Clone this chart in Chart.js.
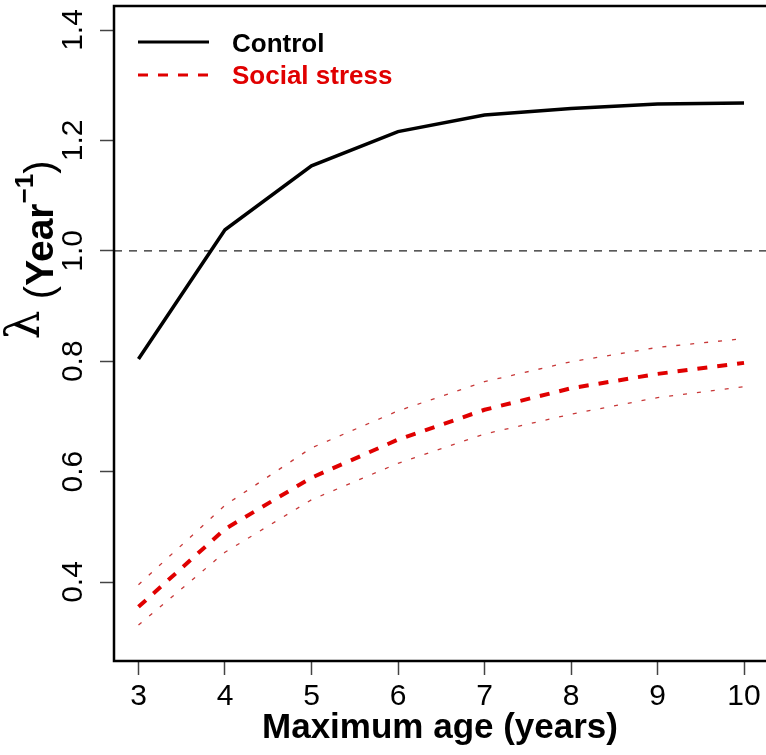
<!DOCTYPE html>
<html lang="en">
<head>
<meta charset="utf-8">
<script src="https://cdn.jsdelivr.net/npm/chart.js@4.4.0/dist/chart.umd.min.js"></script>
<style>
  html, body { margin: 0; padding: 0; background: #fff; }
  canvas { display: block; }
</style>
</head>
<body>
<canvas id="myChart" width="766" height="755"></canvas>
<script>
// data
var maxAge = [3, 4, 5, 6, 7, 8, 9, 10];
var control = [0.804, 1.038, 1.154, 1.216, 1.246, 1.258, 1.266, 1.268];
var stressMean = [0.355, 0.496, 0.589, 0.658, 0.712, 0.751, 0.777, 0.797];
var stressUpper = [0.395, 0.539, 0.643, 0.710, 0.763, 0.799, 0.825, 0.841];
var stressLower = [0.322, 0.454, 0.549, 0.615, 0.668, 0.704, 0.734, 0.754];
var xTicks = [3, 4, 5, 6, 7, 8, 9, 10];
var yTicks = [0.4, 0.6, 0.8, 1.0, 1.2, 1.4];
var refLevel = 1.0;
var legendNames = ['Control', 'Social stress'];

var SANS = '"Liberation Sans", Arial, Helvetica, sans-serif';
var RED = '#e00000';

function pts(ys) {
    return maxAge.map(function (x, i) { return { x: x, y: ys[i] }; });
}

// frame, reference line, rotated y labels, y title, legend
var decor = {
    id: 'decor',
    beforeDatasetsDraw: function (chart) {
        var ctx = chart.ctx, a = chart.chartArea;
        var y = chart.scales.y.getPixelForValue(refLevel);
        ctx.save();
        ctx.strokeStyle = '#222';
        ctx.lineWidth = 1.2;
        ctx.setLineDash([8, 7]);
        ctx.beginPath();
        ctx.moveTo(a.left, y);
        ctx.lineTo(a.right, y);
        ctx.stroke();
        ctx.restore();
    },
    afterDatasetsDraw: function (chart) {
        var ctx = chart.ctx, a = chart.chartArea;
        ctx.save();
        // box (right side falls outside the picture)
        ctx.strokeStyle = '#000';
        ctx.lineWidth = 2.5;
        ctx.beginPath();
        ctx.moveTo(a.right + 5, a.top);
        ctx.lineTo(a.left, a.top);
        ctx.lineTo(a.left, a.bottom);
        ctx.lineTo(a.right + 5, a.bottom);
        ctx.stroke();

        // y tick labels, parallel to the axis
        var ys = chart.scales.y;
        ctx.fillStyle = '#000';
        ctx.font = '30px ' + SANS;
        ctx.textAlign = 'center';
        ctx.textBaseline = 'alphabetic';
        yTicks.forEach(function (v) {
            ctx.save();
            ctx.translate(82, ys.getPixelForValue(v));
            ctx.rotate(-Math.PI / 2);
            ctx.fillText(v.toFixed(1), 0, 0);
            ctx.restore();
        });

        // y title: lambda (Year^-1)
        var parts = [
            { t: '\u03bb', f: '46px "DejaVu Serif", "Liberation Serif", serif', dy: -14 },
            { t: ' (', f: '40px ' + SANS, dy: 0 },
            { t: 'Year', f: 'bold 39px ' + SANS, dy: 0 },
            { t: '\u22121', f: 'bold 26px ' + SANS, dy: -20 },
            { t: ')', f: '40px ' + SANS, dy: 0 }
        ];
        var total = 0;
        parts.forEach(function (p) { ctx.font = p.f; p.w = ctx.measureText(p.t).width; total += p.w; });
        ctx.save();
        ctx.translate(53, 250);
        ctx.rotate(-Math.PI / 2);
        ctx.textAlign = 'left';
        var x = -total / 2;
        parts.forEach(function (p) {
            ctx.font = p.f;
            ctx.fillText(p.t, x, p.dy);
            x += p.w;
        });
        ctx.restore();

        // legend
        ctx.lineCap = 'butt';
        ctx.strokeStyle = '#000';
        ctx.lineWidth = 3;
        ctx.beginPath();
        ctx.moveTo(138, 42);
        ctx.lineTo(209, 42);
        ctx.stroke();
        ctx.strokeStyle = RED;
        ctx.setLineDash([10, 10]);
        ctx.beginPath();
        ctx.moveTo(138, 75);
        ctx.lineTo(209, 75);
        ctx.stroke();
        ctx.setLineDash([]);
        ctx.font = 'bold 26px ' + SANS;
        ctx.textAlign = 'left';
        ctx.fillStyle = '#000';
        ctx.fillText(legendNames[0], 232, 52);
        ctx.fillStyle = RED;
        ctx.fillText(legendNames[1], 232, 84);
        ctx.restore();
    }
};

var ctx = document.getElementById('myChart').getContext('2d');
var myChart = new Chart(ctx, {
    type: 'line',
    data: {
        datasets: [
            { label: 'upper', data: pts(stressUpper), borderColor: '#c83838', borderWidth: 1.3, borderDash: [4, 10] },
            { label: 'lower', data: pts(stressLower), borderColor: '#c83838', borderWidth: 1.3, borderDash: [4, 10] },
            { label: legendNames[1], data: pts(stressMean), borderColor: RED, borderWidth: 4, borderDash: [10, 10] },
            { label: legendNames[0], data: pts(control), borderColor: '#000', borderWidth: 3.5 }
        ]
    },
    options: {
        responsive: false,
        animation: false,
        events: [],
        layout: { padding: { top: 6, right: 0, left: 0, bottom: 0 } },
        elements: {
            point: { radius: 0, hitRadius: 0 },
            line: { tension: 0, borderCapStyle: 'butt', fill: false }
        },
        plugins: {
            legend: { display: false },
            tooltip: { enabled: false }
        },
        scales: {
            x: {
                type: 'linear',
                min: 2.717,
                max: 10.254,
                afterBuildTicks: function (s) { s.ticks = xTicks.map(function (v) { return { value: v }; }); },
                afterFit: function (s) { s.height = 94; },
                grid: { drawOnChartArea: false, drawTicks: true, tickLength: 14, tickColor: '#444', tickWidth: 1.5 },
                border: { display: false },
                ticks: {
                    autoSkip: false,
                    maxRotation: 0,
                    padding: 4,
                    color: '#000',
                    font: { family: SANS, size: 30 }
                },
                title: {
                    display: true,
                    text: 'Maximum age (years)',
                    color: '#000',
                    font: { family: SANS, size: 35, weight: 'bold' },
                    padding: { top: 0, bottom: 6 }
                }
            },
            y: {
                type: 'linear',
                min: 0.2569,
                max: 1.4435,
                afterBuildTicks: function (s) { s.ticks = yTicks.map(function (v) { return { value: v }; }); },
                afterFit: function (s) { s.width = 114; },
                grid: { drawOnChartArea: false, drawTicks: true, tickLength: 14, tickColor: '#444', tickWidth: 1.5 },
                border: { display: false },
                ticks: { display: false }
            }
        }
    },
    plugins: [decor]
});
</script>
</body>
</html>
